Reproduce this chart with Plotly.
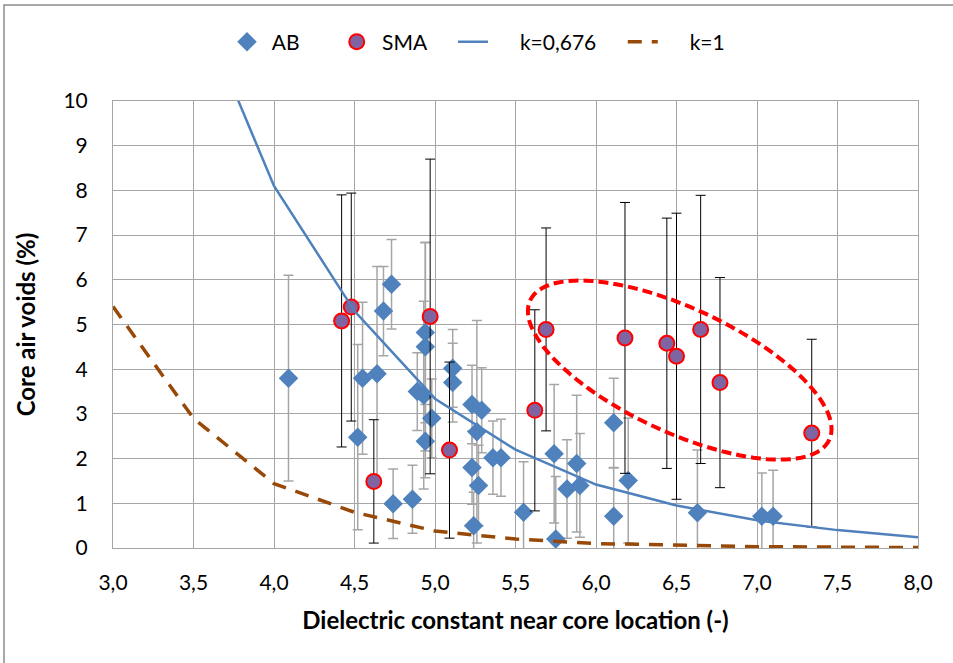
import numpy as np
import plotly.graph_objects as go

# ---------------- data ----------------
ab_x = [4.09, 4.52, 4.55, 4.64, 4.68, 4.73, 4.74, 4.86, 4.89, 4.93, 4.94, 4.94, 4.94, 4.98,
        5.11, 5.11, 5.23, 5.26, 5.29, 5.23, 5.27, 5.24, 5.36, 5.41, 5.55, 5.74, 5.75, 5.82,
        5.88, 5.90, 6.11, 6.11, 6.20, 6.63, 7.03, 7.10]
ab_y = [3.80, 2.48, 3.80, 3.90, 5.30, 5.90, 0.99, 1.09, 3.50, 3.42, 4.82, 4.50, 2.39, 2.90,
        4.02, 3.70, 3.21, 2.60, 3.08, 1.80, 1.40, 0.50, 2.02, 2.02, 0.80, 2.11, 0.20, 1.32,
        1.89, 1.40, 2.80, 0.71, 1.51, 0.79, 0.71, 0.71]
ab_err = [2.30, 2.07, 1.70, 2.40, 1.00, 1.00, 0.78, 0.76, 0.87, 2.10, 2.02, 2.33, 0.82, 0.88,
          0.87, 0.88, 0.88, 2.49, 0.95, 0.82, 0.90, 0.75, 0.82, 0.86, 1.13, 1.55, 1.40, 1.10,
          1.53, 1.16, 1.00, 1.08, 1.40, 1.40, 0.97, 1.03]

sma_x = [4.42, 4.48, 4.62, 4.97, 5.09, 5.62, 5.69, 6.18, 6.44, 6.50, 6.65, 6.77, 7.34]
sma_y = [5.08, 5.39, 1.49, 5.18, 2.19, 3.08, 4.89, 4.70, 4.58, 4.29, 4.89, 3.70, 2.57]
sma_err = [2.82, 2.55, 1.38, 3.52, 1.97, 2.25, 2.27, 3.03, 2.80, 3.20, 3.00, 2.35, 2.10]

curve_x = [3.0, 3.5, 4.0, 4.5, 5.0, 5.5, 6.0, 6.5, 7.0, 7.5, 8.0]
k0676_y = [20.0, 12.4, 8.10, 5.30, 3.34, 2.20, 1.42, 0.95, 0.62, 0.40, 0.24]
k1_y = [5.40, 2.90, 1.44, 0.80, 0.38, 0.20, 0.10, 0.06, 0.03, 0.02, 0.01]

x_ticks = [3.0, 3.5, 4.0, 4.5, 5.0, 5.5, 6.0, 6.5, 7.0, 7.5, 8.0]
x_tick_labels = ["3,0", "3,5", "4,0", "4,5", "5,0", "5,5", "6,0", "6,5", "7,0", "7,5", "8,0"]

series_names = ["AB", "SMA", "k=0,676", "k=1"]

# highlight ellipse (centre in data units, axes in screen pixels)
ell_center = (6.52, 3.98)
ell_a_px, ell_b_px, ell_angle_deg = 165, 62, 25

# ---------------- layout constants ----------------
W, H = 953, 663
ML, MR, MT, MB = 113, 35, 101, 115
X_RANGE = [3, 8]
Y_RANGE = [0, 10]
FONT = "Lato, Calibri, Arial, sans-serif"

AB_COLOR = "#4F81BD"
SMA_FILL = "#8064A2"
BROWN = "#984807"
NB = "\u00a0"

fig = go.Figure()

fig.add_trace(go.Scatter(
    x=ab_x, y=ab_y, mode="markers", name=NB + series_names[0] + NB * 6,
    marker=dict(symbol="diamond", size=15, color=AB_COLOR, line=dict(width=0)),
    error_y=dict(type="data", array=ab_err, visible=True, color="#A6A6A6", thickness=1.5, width=5),
))
fig.add_trace(go.Scatter(
    x=sma_x, y=sma_y, mode="markers", name=NB + series_names[1] + NB * 4,
    marker=dict(symbol="circle", size=15, color=SMA_FILL, line=dict(width=2, color="#FF0000")),
    error_y=dict(type="data", array=sma_err, visible=True, color="#000000", thickness=1, width=5),
))
fig.add_trace(go.Scatter(
    x=curve_x, y=k0676_y, mode="lines", name=NB * 5 + series_names[2] + NB * 4,
    line=dict(color=AB_COLOR, width=2.5),
))
fig.add_trace(go.Scatter(
    x=curve_x, y=k1_y, mode="lines", name=NB * 5 + series_names[3],
    line=dict(color=BROWN, width=3.5, dash="14px,10px"),
))

# ellipse path
pw = W - ML - MR
ph = H - MT - MB
px_per_x = pw / (X_RANGE[1] - X_RANGE[0])
px_per_y = ph / (Y_RANGE[1] - Y_RANGE[0])
th = np.deg2rad(ell_angle_deg)
t = np.linspace(0, 2 * np.pi, 121)
dx_px = ell_a_px * np.cos(t) * np.cos(th) - ell_b_px * np.sin(t) * np.sin(th)
dy_px = ell_a_px * np.cos(t) * np.sin(th) + ell_b_px * np.sin(t) * np.cos(th)  # downward
ex = ell_center[0] + dx_px / px_per_x
ey = ell_center[1] - dy_px / px_per_y
path = "M " + " L ".join(f"{a:.4f},{b:.4f}" for a, b in zip(ex, ey)) + " Z"

shapes = [
    dict(type="path", path=path, xref="x", yref="y",
         line=dict(color="#FF0000", width=4, dash="10px,5px"), fillcolor="rgba(0,0,0,0)"),
    # outer chart frame
    dict(type="rect", xref="paper", yref="paper",
         x0=(4 - ML) / pw, x1=(W + 20 - ML) / pw,
         y0=-(H + 20 - MT - ph) / ph, y1=(MT + ph - 5) / ph,
         line=dict(color="#8C8C8C", width=1.5), fillcolor="rgba(0,0,0,0)", layer="below"),
]

grid = "#A6A6A6"
fig.update_layout(
    width=W, height=H,
    margin=dict(l=ML, r=MR, t=MT, b=MB),
    paper_bgcolor="white", plot_bgcolor="white",
    font=dict(family=FONT, size=20, color="#000000"),
    showlegend=True,
    legend=dict(orientation="h", x=(227 - ML) / pw, xanchor="left",
                y=(MT + ph - 42) / ph, yanchor="middle",
                font=dict(size=21), itemwidth=30, tracegroupgap=0,
                bgcolor="rgba(0,0,0,0)"),
    shapes=shapes,
    xaxis=dict(range=X_RANGE, tickvals=x_ticks, ticktext=x_tick_labels,
               showgrid=True, gridcolor=grid, gridwidth=1, zeroline=False,
               showline=True, linecolor=grid, linewidth=1, mirror=True,
               ticks="", ticklabelstandoff=16, tickfont=dict(size=21),
               title=dict(text="<b>Dielectric constant near core location (-)</b>",
                          font=dict(size=24), standoff=18)),
    yaxis=dict(range=Y_RANGE, dtick=1, tick0=0,
               showgrid=True, gridcolor=grid, gridwidth=1, zeroline=False,
               showline=True, linecolor=grid, linewidth=1, mirror=True,
               ticks="", ticklabelstandoff=20, tickfont=dict(size=21),
               title=dict(text="<b>Core air voids (%)</b>", font=dict(size=24), standoff=21)),
)

fig.write_html("out.html")
